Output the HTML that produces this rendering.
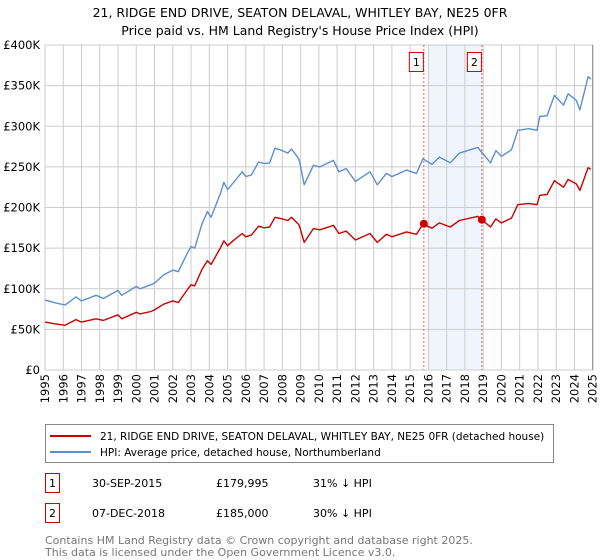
<!DOCTYPE html>
<html><head><meta charset="utf-8"><style>
body{margin:0;background:#fff;font-family:"DejaVu Sans","Liberation Sans",sans-serif;}
svg{display:block}
</style></head><body>
<svg width="600" height="560" xmlns="http://www.w3.org/2000/svg" font-family="DejaVu Sans, Liberation Sans, sans-serif">
<text x="300" y="17" text-anchor="middle" font-size="12.5">21, RIDGE END DRIVE, SEATON DELAVAL, WHITLEY BAY, NE25 0FR</text>
<text x="300" y="35" text-anchor="middle" font-size="12.5">Price paid vs. HM Land Registry's House Price Index (HPI)</text>
<g id="plot"></g>
<g>
<rect x="45.5" y="424.5" width="508" height="38" fill="#fff" stroke="#888"/>
<line x1="50" y1="436" x2="91" y2="436" stroke="#cc0000" stroke-width="2"/>
<text x="100" y="440" font-size="10.5">21, RIDGE END DRIVE, SEATON DELAVAL, WHITLEY BAY, NE25 0FR (detached house)</text>
<line x1="50" y1="452" x2="91" y2="452" stroke="#5b8fd0" stroke-width="2"/>
<text x="100" y="456" font-size="10.5">HPI: Average price, detached house, Northumberland</text>
</g>
<g font-size="11">
<rect x="45.5" y="473.5" width="14" height="19" fill="#fff" stroke="#cc0000"/>
<text x="52.5" y="487" text-anchor="middle">1</text>
<text x="92" y="487">30-SEP-2015</text><text x="216" y="487">£179,995</text><text x="313" y="487">31% ↓ HPI</text>
<rect x="45.5" y="503.5" width="14" height="19" fill="#fff" stroke="#cc0000"/>
<text x="52.5" y="517" text-anchor="middle">2</text>
<text x="92" y="517">07-DEC-2018</text><text x="216" y="517">£185,000</text><text x="313" y="517">30% ↓ HPI</text>
</g>
<text x="45" y="544" font-size="11" fill="#777">Contains HM Land Registry data © Crown copyright and database right 2025.</text>
<text x="45" y="556" font-size="11" fill="#777">This data is licensed under the Open Government Licence v3.0.</text>
</svg>
<script>
const hpiYears=[1995.0,1995.5,1996.1,1996.7,1997.0,1997.8,1998.2,1999.0,1999.2,2000.0,2000.2,2000.8,2001.0,2001.5,2002.0,2002.3,2002.8,2003.0,2003.2,2003.6,2003.9,2004.1,2004.6,2004.8,2005.0,2005.3,2005.8,2006.0,2006.3,2006.7,2007.0,2007.3,2007.6,2008.0,2008.3,2008.5,2008.9,2009.0,2009.2,2009.7,2010.05,2010.8,2011.1,2011.5,2012.0,2012.8,2013.2,2013.7,2014.0,2014.8,2015.35,2015.7,2016.2,2016.6,2017.2,2017.7,2018.7,2019.4,2019.7,2020.0,2020.55,2020.9,2021.5,2021.95,2022.1,2022.5,2022.9,2023.4,2023.65,2024.1,2024.3,2024.75,2024.9];
const hpiValues=[86,83,80,90,85,92,88,98,92,103,100,105,107,117,123,121,144,152,150,180,195,188,217,231,222,230,244,238,240,256,254,255,273,270,267,272,260,250,228,252,250,258,244,248,232,244,228,242,238,246,242,260,253,262,255,267,274,255,270,263,271,295,297,295,312,313,338,326,340,332,320,361,358];
const priceValues=[59,57,55,62,59,63,61,68,63,71,69,72,74,81,85,83,99,105,103.5,124,134.5,130,150,159,153,159,168,164,166,177,175,176,188,186,184,188,179,172.5,157,174,172.5,178,168,171,160,168,157,167,164,170,167,179.5,174.5,181,176,184,189,176,186,181,187,203.5,205,203.5,215,216,233,225,234.5,229,221,249,247];
const yTicks=[0,50,100,150,200,250,300,350,400];
const yTickLabels=["£0","£50K","£100K","£150K","£200K","£250K","£300K","£350K","£400K"];
const xTickYears=[1995,1996,1997,1998,1999,2000,2001,2002,2003,2004,2005,2006,2007,2008,2009,2010,2011,2012,2013,2014,2015,2016,2017,2018,2019,2020,2021,2022,2023,2024,2025];
const saleYears=[2015.75,2018.93];
const salePrices=[180,185];
const saleLabels=["1","2"];

const L=45,R=592.7,T=45,B=370;
const xs=y=>L+(y-1995)/30*(R-L);
const ys=v=>B-v/400*(B-T);
const NS="http://www.w3.org/2000/svg";
const g=document.getElementById('plot');
function mk(t,a){const e=document.createElementNS(NS,t);for(const k in a)e.setAttribute(k,a[k]);g.appendChild(e);return e;}
const sh=mk('rect',{x:xs(2016),y:T,width:xs(saleYears[1])-xs(2016),height:B-T,fill:'#f0f4fd'});


xTickYears.forEach(yr=>{
  const l=mk('line',{x1:xs(yr),x2:xs(yr),y1:T,y2:B,stroke:'#ccc','stroke-width':1});
  
  
  const t=mk('text',{x:0,y:0,'font-size':11.5,'text-anchor':'end',transform:`translate(${xs(yr)+4},${B+4}) rotate(-90)`});
  t.textContent=yr;
  
  
});
yTicks.forEach((v,i)=>{
  const l=mk('line',{x1:L,x2:R,y1:ys(v),y2:ys(v),stroke:'#ccc','stroke-width':1});
  
  
  const t=mk('text',{x:L-5,y:ys(v)+4,'font-size':11.5,'text-anchor':'end'});
  t.textContent=yTickLabels[i];
  
  
});
const edge=mk('line',{x1:R,x2:R,y1:T,y2:B,stroke:'#888','stroke-width':1});


saleYears.forEach((yr,i)=>{
  const l=mk('line',{x1:xs(yr),x2:xs(yr),y1:T,y2:B,stroke:'#e06060','stroke-width':1,'stroke-dasharray':'2,2'});
  
  
  const b=mk('rect',{x:xs(yr)-14.5,y:52.5,width:14,height:19,fill:'#fff',stroke:'#cc0000'});
  
  
  const t=mk('text',{x:xs(yr)-7.5,y:66,'font-size':11,'text-anchor':'middle'});
  t.textContent=saleLabels[i];
  
  
});
function path(vals,color,name){
  const d=vals.map((v,i)=>(i?'L':'M')+xs(hpiYears[i]).toFixed(1)+','+ys(v).toFixed(1)).join('');
  const p=mk('path',{d:d,fill:'none',stroke:color,'stroke-width':1.4,'stroke-linejoin':'round'});
  
  
}
path(hpiValues,'#5b8fd0','hpi-line');
path(priceValues,'#cc0000','price-paid-line');
saleYears.forEach((yr,i)=>{
  const c=mk('circle',{cx:xs(yr),cy:ys(salePrices[i]),r:4,fill:'#cc0000'});
  
  
});
</script>
</body></html>
